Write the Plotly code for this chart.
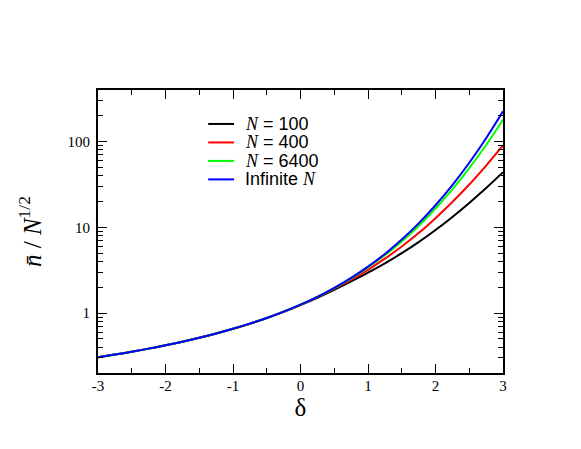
import plotly.graph_objects as go

# delta grid, every 0.25
delta = [-3.0, -2.75, -2.5, -2.25, -2.0, -1.75, -1.5, -1.25, -1.0, -0.75, -0.5, -0.25,
         0.0, 0.25, 0.5, 0.75, 1.0, 1.25, 1.5, 1.75, 2.0, 2.25, 2.5, 2.75, 3.0]

n_100 = [0.305, 0.328, 0.354, 0.385, 0.421, 0.464, 0.516, 0.578, 0.655, 0.751, 0.873, 1.032,
         1.241, 1.510, 1.866, 2.337, 2.955, 3.794, 4.991, 6.718, 9.30, 13.23, 19.28, 28.76, 44.0]
n_400 = [0.305, 0.328, 0.354, 0.385, 0.421, 0.464, 0.516, 0.578, 0.656, 0.752, 0.876, 1.036,
         1.247, 1.533, 1.925, 2.453, 3.199, 4.309, 5.980, 8.567, 12.80, 19.75, 31.6, 52.6, 90.1]
n_6400 = [0.305, 0.328, 0.354, 0.385, 0.421, 0.464, 0.516, 0.578, 0.656, 0.753, 0.876, 1.038,
          1.253, 1.548, 1.954, 2.543, 3.407, 4.725, 6.845, 10.35, 16.60, 27.8, 49.1, 91.4, 180.2]
n_inf = [0.305, 0.328, 0.354, 0.385, 0.421, 0.464, 0.516, 0.578, 0.656, 0.753, 0.876, 1.038,
         1.253, 1.548, 1.964, 2.568, 3.477, 4.897, 7.205, 11.13, 18.10, 31.12, 56.70, 109.6, 225.3]

x_ticks = [-3, -2, -1, 0, 1, 2, 3]
x_ticklabels = ["-3", "-2", "-1", "0", "1", "2", "3"]
y_ticks = [1, 10, 100]
y_ticklabels = ["1", "10", "100"]
y_minor = [0.2, 0.3, 0.4, 0.5, 0.6, 0.7, 0.8, 0.9, 2, 3, 4, 5, 6, 7, 8, 9,
           20, 30, 40, 50, 60, 70, 80, 90, 200, 300, 400]

NI = '<span style="font-family:Liberation Serif"><i>N</i></span>'
series = [
    (NI + " = 100", n_100, "#000000"),
    (NI + " = 400", n_400, "#ff0000"),
    (NI + " = 6400", n_6400, "#00ff00"),
    ("Infinite " + NI, n_inf, "#0000ff"),
]

serif = "Liberation Serif"
sans = "Liberation Sans"

fig = go.Figure()
for name, vals, col in series:
    fig.add_trace(go.Scatter(x=delta, y=vals, mode="lines", name=name, showlegend=False,
                             line=dict(color=col, width=2, shape="spline")))

# hand-placed legend (tight line spacing like the original)
leg_top = 0.880
leg_step = 0.0653
for i, (name, vals, col) in enumerate(series):
    yy = leg_top - i * leg_step
    fig.add_shape(type="line", xref="paper", yref="paper",
                  x0=0.272, x1=0.336, y0=yy, y1=yy,
                  line=dict(color=col, width=2))
    fig.add_annotation(xref="paper", yref="paper", x=0.357, y=yy,
                       xanchor="left", yanchor="middle", showarrow=False,
                       text=name, font=dict(family=sans, size=18, color="black"))

# page body adds an 8px margin, so the figure is 8px smaller and shifted
fig.update_layout(
    width=573, height=441,
    margin=dict(l=90, r=78, t=82, b=76),
    paper_bgcolor="white", plot_bgcolor="white",
    showlegend=False,
    xaxis=dict(
        range=[-3, 3], tickvals=x_ticks, ticktext=x_ticklabels,
        showgrid=False, zeroline=False, automargin=False,
        showline=True, linecolor="black", linewidth=2, mirror="ticks",
        ticks="inside", ticklen=9, tickwidth=1, tickcolor="black",
        minor=dict(dtick=0.5, tick0=-3, ticks="inside", ticklen=5, tickcolor="black", showgrid=False),
        tickfont=dict(family=serif, size=15, color="black"),
        ticklabelstandoff=-2,
        title=dict(text="δ", font=dict(family=serif, size=25, color="black"), standoff=4),
    ),
    yaxis=dict(
        type="log", range=[-0.699, 2.602],
        tickvals=y_ticks, ticktext=y_ticklabels,
        showgrid=False, zeroline=False, automargin=False,
        showline=True, linecolor="black", linewidth=2, mirror="ticks",
        ticks="inside", ticklen=9, tickwidth=1, tickcolor="black",
        minor=dict(tickvals=y_minor, ticks="inside", ticklen=5, tickcolor="black", showgrid=False),
        tickfont=dict(family=serif, size=15, color="black"),
        ticklabelstandoff=3,
        title=dict(text="<i>n\u0304</i> / <i>N</i><sup>1/2</sup>",
                   font=dict(family=serif, size=25, color="black"), standoff=19),
    ),
)

fig.write_html("out.html")
